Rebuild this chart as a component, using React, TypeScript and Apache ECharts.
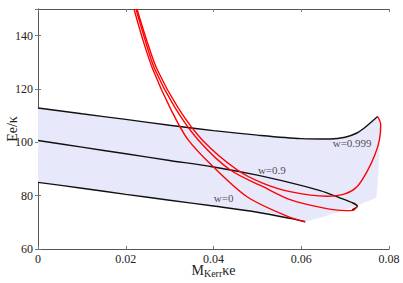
import React, { useEffect, useRef } from "react";
import * as echarts from "echarts";

// Axis ticks
const X_TICKS = [0, 0.02, 0.04, 0.06, 0.08];
const Y_TICKS = [60, 80, 100, 120, 140];
const Y_MAX = 150;

// Black curves (constant w)
const W0_X = [0, 0.01, 0.02, 0.03, 0.04, 0.05, 0.0574, 0.0609];
const W0_Y = [85.0, 82.8, 80.5, 78.3, 76.1, 73.8, 71.5, 70.2];

const W09_X = [0, 0.01, 0.02, 0.03, 0.04, 0.05, 0.0574, 0.0643, 0.0688, 0.0718, 0.0728, 0.0716];
const W09_Y = [100.7, 98.2, 95.7, 93.2, 90.75, 87.7, 84.9, 81.9, 79.2, 77.25, 76.0, 74.7];

const W999_X = [0, 0.01, 0.02, 0.03, 0.04, 0.05, 0.06, 0.0666, 0.07, 0.0727, 0.0743, 0.0757, 0.0774];
const W999_Y = [112.9, 110.7, 108.6, 106.4, 104.4, 102.7, 101.4, 101.25, 101.9, 103.5, 105.3, 107.25, 109.7];

// Red curves
const RA_X = [0.02188, 0.02393, 0.02621, 0.03009, 0.03419, 0.03989, 0.04764, 0.05675, 0.06085];
const RA_Y = [150, 138.3, 127.2, 113.0, 101.0, 90.9, 79.6, 72.3, 70.2];

const RB_X = [0.02234, 0.02439, 0.02667, 0.03122, 0.03647, 0.04376, 0.05128, 0.05744, 0.06496, 0.06997, 0.0718, 0.07277];
const RB_Y = [150, 138.5, 127.2, 113.0, 101.0, 89.7, 83.35, 78.5, 75.4, 74.4, 74.5, 76.0];

const RC_X = [0.02256, 0.02473, 0.02719, 0.03191, 0.03738, 0.04536, 0.05105, 0.05744, 0.06587, 0.06997, 0.07271, 0.07499, 0.07681, 0.07783, 0.07811, 0.07743];
const RC_Y = [150, 138.5, 127.2, 113.0, 101.0, 89.7, 84.8, 81.5, 79.8, 80.7, 83.35, 89.0, 95.4, 101.0, 106.6, 109.7];

// Shaded region: right / lower edge from the w=0.999 tip down to the w=0 end
const EDGE_X = [0.07795, 0.07783, 0.07749, 0.07715, 0.07293, 0.06883, 0.06473, 0.06085];
const EDGE_Y = [106.6, 97.2, 86.0, 79.2, 76.4, 74.1, 71.9, 70.2];

// Curve labels
const LABEL_TEXT = ["w=0", "w=0.9", "w=0.999"];
const LABEL_X = [0.0423, 0.0533, 0.0716];
const LABEL_Y = [79.3, 89.5, 99.6];

const FONT = "Liberation Serif";
const TEXT = "#222";

const zip = (xs: number[], ys: number[]) => xs.map((x, i) => [x, ys[i]]);

export default function App() {
  const ref = useRef<HTMLDivElement>(null);

  useEffect(() => {
    if (!ref.current) return;
    const chart = echarts.init(ref.current, undefined, { renderer: "svg" });

    const shadeBoundary: number[][] = [
      ...zip(W999_X, W999_Y),
      ...zip(EDGE_X, EDGE_Y),
      ...zip(W0_X, W0_Y).reverse(),
    ];

    const step = X_TICKS[1] - X_TICKS[0];
    const yStep = Y_TICKS[1] - Y_TICKS[0];

    const axisLine = { show: true, lineStyle: { color: "#555", width: 1 } };
    const axisTick = { show: true, inside: true, length: 3, lineStyle: { color: "#777" } };

    const blackLine = (data: number[][]) => ({
      type: "line",
      data,
      symbol: "none",
      smooth: 0.3,
      lineStyle: { color: "#111", width: 1.4 },
      z: 3,
      silent: true,
    });
    const redLine = (data: number[][]) => ({
      type: "line",
      data,
      symbol: "none",
      smooth: 0.3,
      lineStyle: { color: "#ff0000", width: 1.4 },
      z: 4,
      silent: true,
    });

    chart.setOption({
      animation: false,
      backgroundColor: "#fff",
      textStyle: { fontFamily: FONT },
      grid: { left: 38, right: 14, top: 9, bottom: 34, containLabel: false, outerBoundsMode: "none" },
      xAxis: [
        {
          type: "value",
          min: X_TICKS[0],
          max: X_TICKS[X_TICKS.length - 1],
          interval: step,
          position: "bottom",
          axisLine,
          axisTick,
          splitLine: { show: false },
          axisLabel: {
            fontFamily: FONT,
            fontSize: 12,
            color: TEXT,
            margin: 4,
            formatter: (v: number) => String(+v.toFixed(2)),
          },
          name: "{m|M}{s|Kerr}{m|κe}",
          nameLocation: "middle",
          nameGap: 13,
          nameMoveOverlap: false,
          nameTextStyle: {
            fontFamily: FONT,
            rich: {
              m: { fontFamily: FONT, fontSize: 14, color: TEXT },
              s: { fontFamily: FONT, fontSize: 10, color: TEXT, padding: [6, 0, 0, 0] },
            },
          },
        },
        {
          type: "value",
          min: X_TICKS[0],
          max: X_TICKS[X_TICKS.length - 1],
          interval: step,
          position: "top",
          axisLine,
          axisTick,
          axisLabel: { show: false },
          splitLine: { show: false },
        },
      ],
      yAxis: [
        {
          type: "value",
          min: Y_TICKS[0],
          max: Y_MAX,
          interval: yStep,
          position: "left",
          axisLine,
          axisTick,
          splitLine: { show: false },
          axisLabel: {
            fontFamily: FONT,
            fontSize: 12,
            color: TEXT,
            margin: 5,
            showMaxLabel: false,
          },
          name: "Ee/κ",
          nameLocation: "middle",
          nameGap: 19,
          nameMoveOverlap: false,
          nameRotate: 90,
          nameTextStyle: { fontFamily: FONT, fontSize: 14, color: TEXT },
        },
        {
          type: "value",
          min: Y_TICKS[0],
          max: Y_MAX,
          interval: yStep,
          position: "right",
          axisLine,
          axisTick,
          axisLabel: { show: false },
          splitLine: { show: false },
        },
      ],
      series: [
        {
          type: "custom",
          coordinateSystem: "cartesian2d",
          xAxisIndex: 0,
          yAxisIndex: 0,
          data: [[0, 60]],
          clip: true,
          silent: true,
          z: 1,
          renderItem: (_params: any, api: any) => ({
            type: "polygon",
            shape: { points: shadeBoundary.map((p) => api.coord(p)) },
            style: { fill: "rgb(232,232,251)", stroke: "none" },
          }),
        },
        blackLine(zip(W0_X, W0_Y)),
        blackLine(zip(W09_X, W09_Y)),
        blackLine(zip(W999_X, W999_Y)),
        redLine(zip(RA_X, RA_Y)),
        redLine(zip(RB_X, RB_Y)),
        redLine(zip(RC_X, RC_Y)),
        {
          type: "scatter",
          data: LABEL_X.map((x, i) => ({ value: [x, LABEL_Y[i]], name: LABEL_TEXT[i] })),
          symbolSize: 0,
          silent: true,
          z: 5,
          label: {
            show: true,
            position: "inside",
            formatter: (p: any) => p.name,
            fontFamily: FONT,
            fontSize: 11,
            color: TEXT,
          },
        },
      ],
    });

    return () => chart.dispose();
  }, []);

  return (
    <div
      ref={ref}
      style={{ position: "absolute", left: 0, top: 0, width: 403, height: 283, background: "#fff" }}
    />
  );
}
